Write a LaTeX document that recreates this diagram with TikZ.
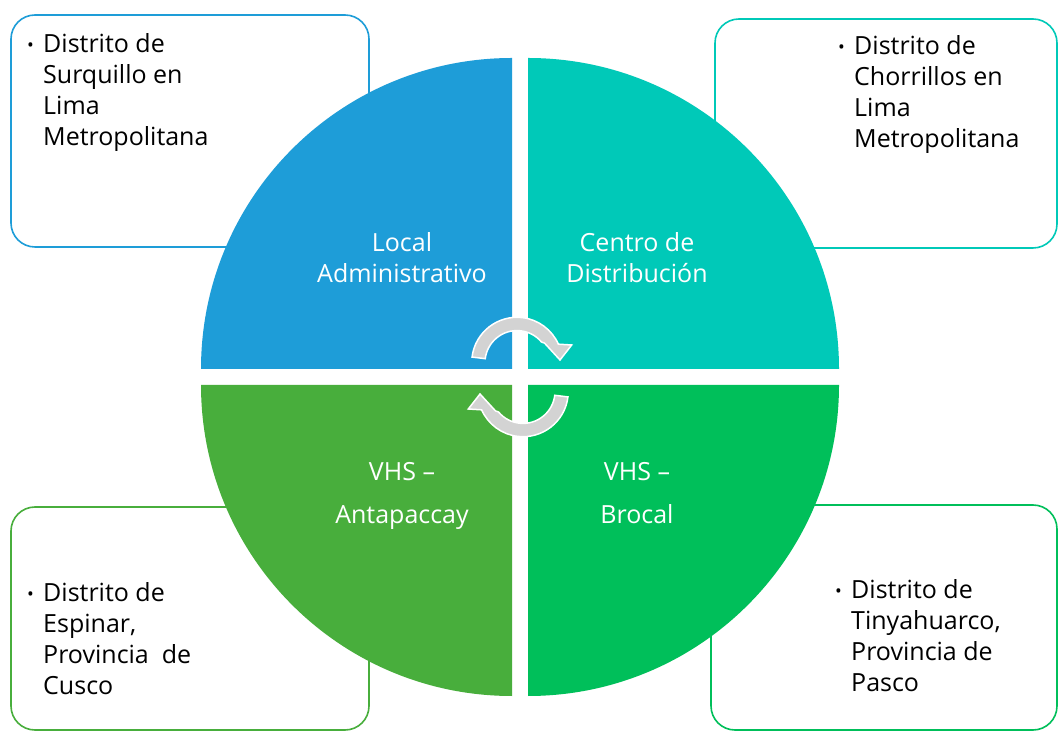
\documentclass[tikz,border=0pt]{standalone}
\usepackage{fontspec}
\setmainfont{Open Sans}
\definecolor{cBlue}{RGB}{30,157,216}
\definecolor{cTeal}{RGB}{0,201,184}
\definecolor{cGreenA}{RGB}{72,174,60}
\definecolor{cGreenB}{RGB}{0,191,90}
\definecolor{arrowgray}{RGB}{211,211,211}
\newcommand{\bul}{\makebox[16pt][l]{\raisebox{1pt}{\fontsize{18}{18}\selectfont •}}}
\newcommand{\cycpath}{(-47.96,19.92) arc[start angle=173,end angle=24,radius=45.3] -- (51.7,32.0) -- (40,17.0) -- (24.5,33.9) -- (21.51,34.97) arc[start angle=40,end angle=173,radius=32] -- cycle}
\begin{document}
\begin{tikzpicture}[x=1pt,y=1pt,
  box/.style={draw, line width=1.6pt, rounded corners=24pt, fill=white},
  ctext/.style={text=white, inner sep=0pt, anchor=base, font=\fontsize{25}{31}\selectfont},
  btext/.style={text=black, inner sep=0pt, anchor=base west, font=\fontsize{25}{31}\selectfont},
  cyc/.style={fill=arrowgray, draw=white, line width=1.5pt, line join=miter}]
\useasboundingbox (0,0) rectangle (1059,733);
\fill[white] (0,0) rectangle (1059,733);
% side boxes
\draw[box, draw=cBlue] (11,486) rectangle (369,718);
\draw[box, draw=cTeal] (715,485) rectangle (1057,714);
\draw[box, draw=cGreenA] (11,3) rectangle (369,226);
\draw[box, draw=cGreenB] (711,3) rectangle (1057,228);
% quadrants
\fill[cBlue] (512,364) -- (201,364) arc[start angle=180,end angle=90,radius=311] -- cycle;
\fill[cTeal] (528,364) -- (528,675) arc[start angle=90,end angle=0,radius=311] -- cycle;
\fill[cGreenA] (512,348) -- (512,37) arc[start angle=270,end angle=180,radius=311] -- cycle;
\fill[cGreenB] (528,348) -- (839,348) arc[start angle=0,end angle=-90,radius=311] -- cycle;
% quadrant labels
\node[ctext] (qa) at (402,481) {\begin{tabular}[t]{@{}c@{}}Local\\Administrativo\end{tabular}};
\node[ctext] (qb) at (637,481) {\begin{tabular}[t]{@{}c@{}}Centro de\\Distribución\end{tabular}};
\node[ctext] (qc) at (402,252) {\begin{tabular}[t]{@{}c@{}}VHS –\\[12pt]Antapaccay\end{tabular}};
\node[ctext] (qd) at (637,252) {\begin{tabular}[t]{@{}c@{}}VHS –\\[12pt]Brocal\end{tabular}};
% box texts
\node[btext] (ta) at (27,680) {\begin{tabular}[t]{@{}l@{}l@{}}\bul&Distrito de\\&Surquillo en\\&Lima\\&Metropolitana\end{tabular}};
\node[btext] (tb) at (838,678) {\begin{tabular}[t]{@{}l@{}l@{}}\bul&Distrito de\\&Chorrillos en\\&Lima\\&Metropolitana\end{tabular}};
\node[btext] (tc) at (27,131) {\begin{tabular}[t]{@{}l@{}l@{}}\bul&Distrito de\\&Espinar,\\&Provincia\ \ de\\&Cusco\end{tabular}};
\node[btext] (td) at (835,134) {\begin{tabular}[t]{@{}l@{}l@{}}\bul&Distrito de\\&Tinyahuarco,\\&Provincia de\\&Pasco\end{tabular}};
% cycle arrows
\begin{scope}[shift={(520,356)}]
  \path[cyc] \cycpath;
\end{scope}
\begin{scope}[shift={(520,356)}, rotate=180]
  \path[cyc] \cycpath;
\end{scope}
\end{tikzpicture}
\end{document}
